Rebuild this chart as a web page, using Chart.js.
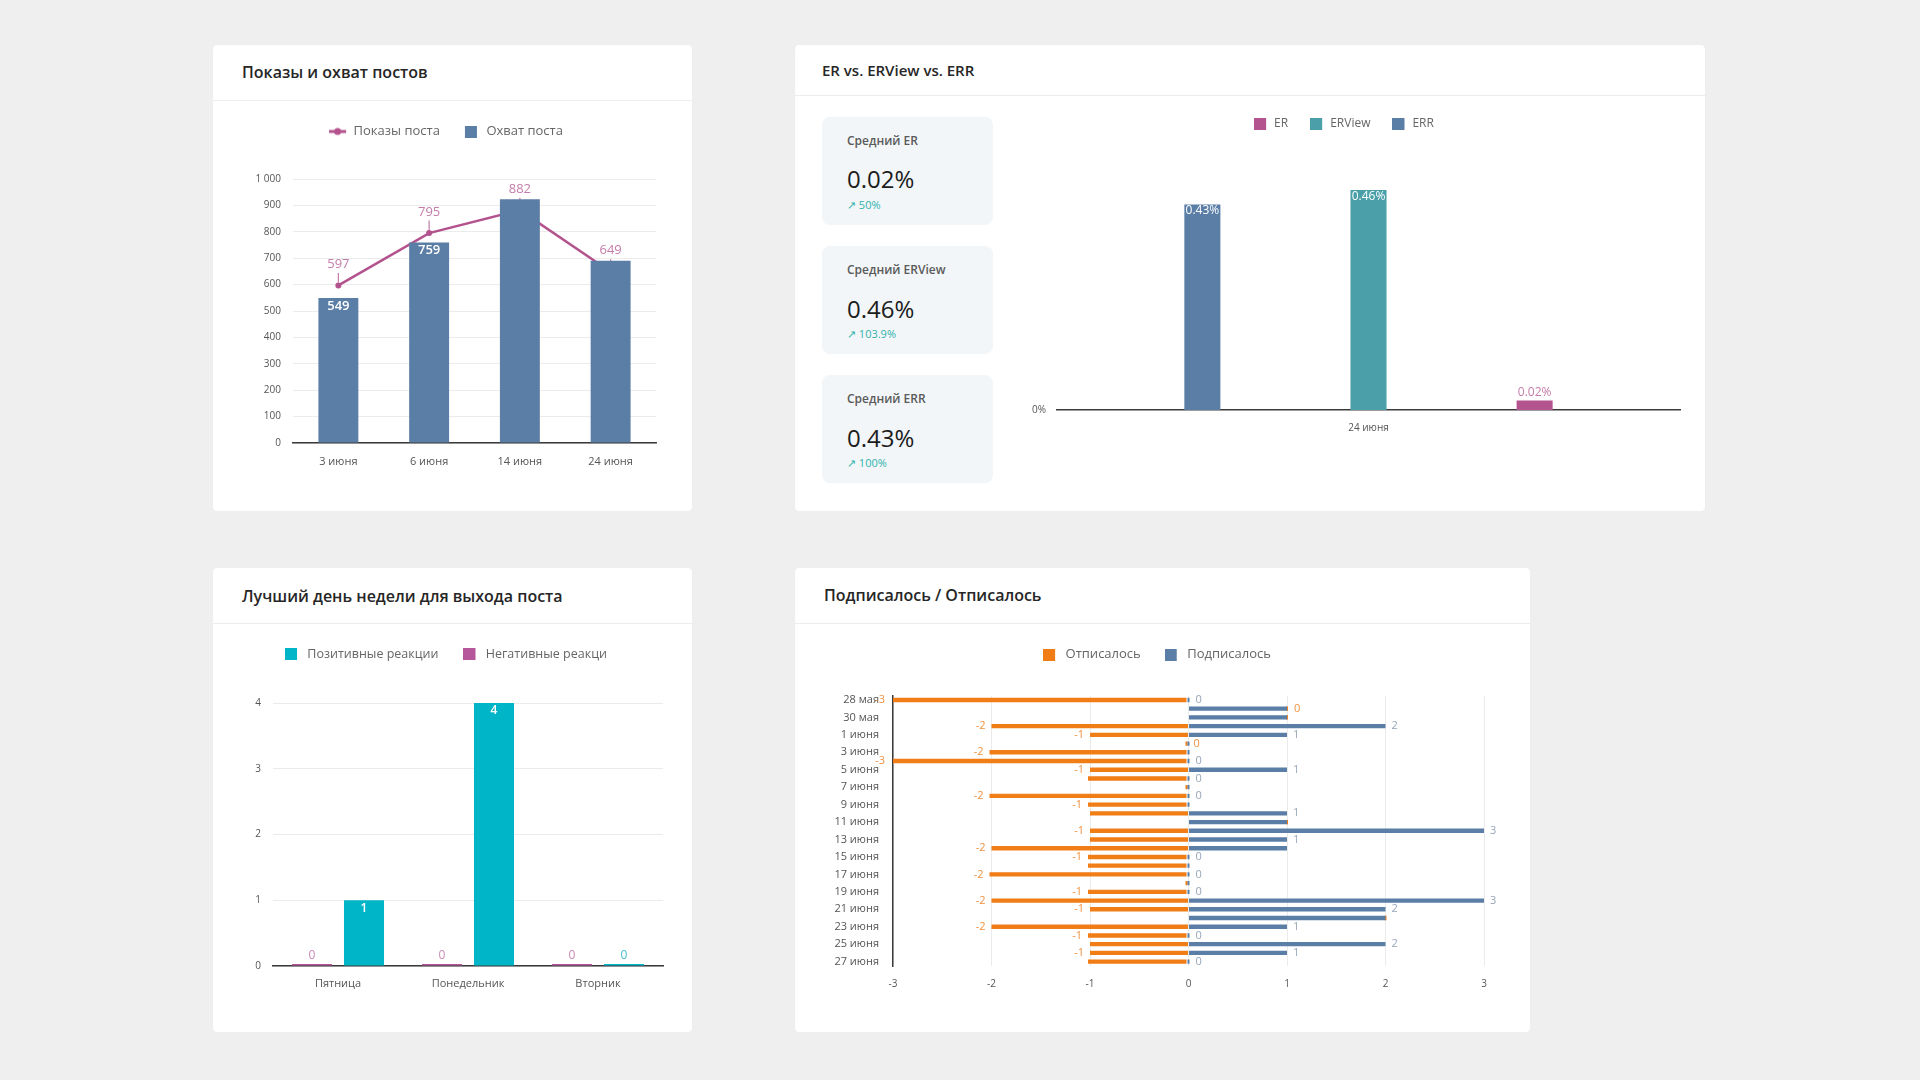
<!DOCTYPE html>
<html lang="ru">
<head>
<meta charset="utf-8">
<script src="https://cdn.jsdelivr.net/npm/chart.js@4.4.1/dist/chart.umd.min.js"></script>
<style>
html,body{margin:0;padding:0;}
body{width:1920px;height:1080px;background:#efefef;position:relative;overflow:hidden;font-family:'Open Sans',sans-serif;}
.card{position:absolute;background:#fff;border-radius:4px;box-shadow:0 0 1px rgba(0,0,0,0.06);}
.sep{position:absolute;height:1px;background:#ededed;}
.stat{position:absolute;background:#f2f6f8;border-radius:8px;}
canvas{position:absolute;}
</style>
</head>
<body>
<script>
// ---------- DATA ----------
const postDates = ['3 июня', '6 июня', '14 июня', '24 июня'];
const postImpressions = [597, 795, 882, 649];
const postReach = [549, 759, 923, 690];

const erDates = ['24 июня'];
const erValues = [0.02];
const erViewValues = [0.46];
const errValues = [0.43];
const erStatLabels = ['Средний ER', 'Средний ERView', 'Средний ERR'];
const erStatValues = ['0.02%', '0.46%', '0.43%'];
const erStatChanges = ['50%', '103.9%', '100%'];

const weekDays = ['Пятница', 'Понедельник', 'Вторник'];
const positiveReactions = [1, 4, 0];
const negativeReactions = [0, 0, 0];

const subDates = ['28 мая', '29 мая', '30 мая', '31 мая', '1 июня', '2 июня', '3 июня', '4 июня',
  '5 июня', '6 июня', '7 июня', '8 июня', '9 июня', '10 июня', '11 июня', '12 июня', '13 июня',
  '14 июня', '15 июня', '16 июня', '17 июня', '18 июня', '19 июня', '20 июня', '21 июня', '22 июня',
  '23 июня', '24 июня', '25 июня', '26 июня', '27 июня'];
const unsubscribed = [-3, 0, 0, -2, -1, 0, -2, -3, -1, -1, 0, -2, -1, -1, 0, -1, -1, -2, -1, -1, -2, 0, -1, -2, -1, 0, -2, -1, -1, -1, -1];
const subscribed = [0, 1, 1, 2, 1, 0, 0, 0, 1, 0, 0, 0, 0, 1, 1, 3, 1, 1, 0, 0, 0, 0, 0, 3, 2, 2, 1, 0, 2, 1, 0];

// ---------- COLOURS ----------
const C = {
  reach: '#5b7ea6', impr: '#b3528d', imprLabel: '#c47ca9',
  err: '#5b7ea6', erview: '#4a9fa9', er: '#b3548f', erLabel: '#c47ca9',
  pos: '#00b5c7', neg: '#b5579a', posLabel: '#43c2ce', negLabel: '#c98ab7',
  unsub: '#f07d16', sub: '#5b7ea6', unsubLabel: '#f0913f', subLabel: '#97a6b8',
  tick: '#555', legend: '#666', grid: '#ebebeb', axis: '#3a3a3a'
};

Chart.defaults.font.family = "'Open Sans', sans-serif";
Chart.defaults.color = C.tick;
Chart.defaults.animation = false;
Chart.defaults.plugins.tooltip.enabled = false;

// ---------- PAGE HELPERS ----------
function box(cls, l, t, w, h) {
  const d = document.createElement('div');
  d.className = cls;
  d.style.left = l + 'px'; d.style.top = t + 'px'; d.style.width = w + 'px'; d.style.height = h + 'px';
  document.body.appendChild(d);
  return d;
}
function text(x, yc, str, size, weight, color) {
  const d = document.createElement('div');
  d.textContent = str;
  d.style.cssText = `position:absolute;left:${x}px;top:${yc - size * 0.55}px;font-size:${size}px;line-height:${size}px;font-weight:${weight};color:${color};white-space:nowrap;`;
  document.body.appendChild(d);
}
function frame(o) {
  const top = Math.round(o.legendY - o.P - o.fs / 2);
  const extra = o.plotT - (top + o.fs + o.P + 10);
  const left = o.plotL - o.yW;
  const right = Math.ceil(o.plotR + o.padR);
  const need = o.plotB + 2 * o.xPad + o.xFs * 1.2;
  const bottom = Math.ceil(need) + 2;
  const cv = document.createElement('canvas');
  cv.width = right - left; cv.height = bottom - top;
  cv.style.left = left + 'px'; cv.style.top = top + 'px';
  document.body.appendChild(cv);
  return { cv, extra, padRight: right - o.plotR, padBottom: bottom - need };
}
// extra space below the legend, and a small horizontal nudge of the legend row
function legendGap(extra, dx) {
  return { id: 'legendGap', afterInit(chart) {
    const lg = chart.legend; const f = lg.fit; const d = lg.draw;
    lg.fit = function () { f.call(this); this.height += extra; };
    lg.draw = function () { const c = this.ctx; c.save(); c.translate(dx, 0); d.call(this); c.restore(); };
  } };
}
function rectIcon(color, w, off) {
  const c = document.createElement('canvas'); c.width = w; c.height = 12;
  const x = c.getContext('2d'); x.fillStyle = color; x.fillRect(off, 0, 12, 12); return c;
}
function lineIcon(color, w) {
  const c = document.createElement('canvas'); c.width = w; c.height = 12;
  const x = c.getContext('2d'); x.strokeStyle = color; x.lineWidth = 3;
  x.beginPath(); x.moveTo(0, 6); x.lineTo(17, 6); x.stroke();
  x.fillStyle = color; x.beginPath(); x.arc(8.5, 6, 3.5, 0, Math.PI * 2); x.fill(); return c;
}
function legendOpts(items, fs, P, w) {
  return {
    display: true, position: 'top',
    labels: {
      usePointStyle: true, pointStyleWidth: w, padding: P, color: C.legend,
      font: { size: fs },
      generateLabels: () => items.map(it => ({ text: it.text, pointStyle: it.icon, fillStyle: 'rgba(0,0,0,0)',
        strokeStyle: 'rgba(0,0,0,0)', lineWidth: 0, hidden: false, datasetIndex: it.ds, fontColor: C.legend }))
    }
  };
}

// ---------- CARDS ----------
box('card', 213, 45, 479, 466);
box('sep', 213, 100, 479, 1);
text(242, 73, 'Показы и охват постов', 16, 600, '#262626');

box('card', 795, 45, 910, 466);
box('sep', 795, 95, 910, 1);
text(822, 71, 'ER vs. ERView vs. ERR', 15, 600, '#262626');

box('card', 213, 568, 479, 464);
box('sep', 213, 623, 479, 1);
text(242, 597, 'Лучший день недели для выхода поста', 16, 600, '#262626');

box('card', 795, 568, 735, 464);
box('sep', 795, 623, 735, 1);
text(824, 596, 'Подписалось / Отписалось', 16, 600, '#262626');

const statTops = [116.5, 246, 375];
statTops.forEach((t, i) => {
  box('stat', 822, t, 171, 108);
  text(847, t + 25, erStatLabels[i], 12, 600, '#5a5a5a');
  text(847, t + 64, erStatValues[i], 24, 400, '#1c1c1c');
  text(847, t + 88.5, '\u2197 ' + erStatChanges[i], 11, 400, '#2fb3ad');
});

// ---------- CHART 1: Показы и охват ----------
(function () {
  const o = { legendY: 131, fs: 13, P: 22, plotL: 293, plotR: 656, plotT: 179, plotB: 443, yW: 63, padR: 8, xPad: 12, xFs: 11 };
  const f = frame(o);
  const labelsPlugin = {
    id: 'postLabels',
    afterDatasetDraw(chart, args) {
      if (args.index !== 0) return;
      const ctx = chart.ctx;
      ctx.save(); ctx.strokeStyle = C.imprLabel; ctx.lineWidth = 1.2;
      chart.getDatasetMeta(0).data.forEach(p => { ctx.beginPath(); ctx.moveTo(p.x, p.y - 12.5); ctx.lineTo(p.x, p.y - 3); ctx.stroke(); });
      ctx.restore();
    },
    afterDatasetsDraw(chart) {
      const ctx = chart.ctx;
      ctx.save(); ctx.textAlign = 'center'; ctx.textBaseline = 'middle';
      ctx.font = "13px 'Open Sans'"; ctx.fillStyle = C.imprLabel;
      chart.getDatasetMeta(0).data.forEach((p, i) => ctx.fillText(String(postImpressions[i]), p.x, p.y - 21));
      ctx.font = "600 13px 'Open Sans'"; ctx.fillStyle = '#fff';
      chart.getDatasetMeta(1).data.forEach((b, i) => {
        if (postReach[i] < postImpressions[i]) ctx.fillText(String(postReach[i]), b.x, b.y + 8);
      });
      ctx.restore();
    }
  };
  new Chart(f.cv, {
    type: 'bar',
    data: {
      labels: postDates,
      datasets: [
        { type: 'line', label: 'Показы поста', data: postImpressions, order: 2, borderColor: C.impr, backgroundColor: C.impr,
          borderWidth: 2.5, pointRadius: 3, pointBackgroundColor: C.impr, pointBorderWidth: 0, tension: 0 },
        { type: 'bar', label: 'Охват поста', data: postReach, order: 1, backgroundColor: C.reach,
          categoryPercentage: 0.8, barPercentage: 0.55 }
      ]
    },
    options: {
      responsive: false,
      layout: { padding: { top: 0, left: 0, right: f.padRight, bottom: f.padBottom } },
      plugins: { legend: legendOpts([
        { text: 'Показы поста', icon: lineIcon(C.impr, 18), ds: 0 },
        { text: 'Охват поста', icon: rectIcon(C.reach, 18, 3), ds: 1 }], 13, 22, 18) },
      scales: {
        x: { grid: { display: false, drawTicks: false }, border: { display: true, color: C.axis, width: 1.5 },
          ticks: { font: { size: 11 }, padding: 12 } },
        y: { min: 0, max: 1000, ticks: { stepSize: 100, font: { size: 10 }, padding: 12,
            callback: v => v >= 1000 ? String(v).replace(/(\d)(\d{3})$/, '$1 $2') : String(v) },
          grid: { color: C.grid, drawTicks: false }, border: { display: false },
          afterFit: s => { s.width = o.yW; } }
      }
    },
    plugins: [legendGap(f.extra, 3), labelsPlugin]
  });
})();

// ---------- CHART 2: ER vs ERView vs ERR ----------
(function () {
  const o = { legendY: 124.3, fs: 12, P: 22, plotL: 1057, plotR: 1680, plotT: 171, plotB: 410, yW: 57, padR: 14, xPad: 12, xFs: 10 };
  const f = frame(o);
  const lbl = {
    id: 'erLabels',
    afterDatasetsDraw(chart) {
      const ctx = chart.ctx; ctx.save(); ctx.textAlign = 'center'; ctx.textBaseline = 'middle';
      ctx.font = "12px 'Open Sans'";
      chart.data.datasets.forEach((ds, di) => {
        chart.getDatasetMeta(di).data.forEach((b, i) => {
          const t = ds.data[i] + '%';
          if (b.base - b.y > 18) { ctx.fillStyle = '#fff'; ctx.fillText(t, b.x, b.y + 6.5); }
          else { ctx.fillStyle = ds.labelColor; ctx.fillText(t, b.x, b.y - 7.5); }
        });
      });
      ctx.restore();
    }
  };
  new Chart(f.cv, {
    type: 'bar',
    data: {
      labels: erDates,
      datasets: [
        { label: 'ERR', data: errValues, backgroundColor: C.err, labelColor: '#fff' },
        { label: 'ERView', data: erViewValues, backgroundColor: C.erview, labelColor: '#fff' },
        { label: 'ER', data: erValues, backgroundColor: C.er, labelColor: C.erLabel }
      ]
    },
    options: {
      responsive: false,
      datasets: { bar: { categoryPercentage: 0.8, barPercentage: 0.217 } },
      layout: { padding: { top: 0, left: 0, right: f.padRight, bottom: f.padBottom } },
      plugins: { legend: legendOpts([
        { text: 'ER', icon: rectIcon(C.er, 14, 0), ds: 2 },
        { text: 'ERView', icon: rectIcon(C.erview, 14, 0), ds: 1 },
        { text: 'ERR', icon: rectIcon(C.err, 14, 0), ds: 0 }], 12, 22, 14) },
      scales: {
        x: { grid: { display: false, drawTicks: false }, border: { display: true, color: C.axis, width: 1.5 },
          ticks: { font: { size: 10 }, padding: 12 } },
        y: { min: 0, max: 0.5, grid: { display: false, drawTicks: false }, border: { display: false },
          ticks: { font: { size: 10 }, padding: 11, callback: v => v === 0 ? '0%' : '' },
          afterFit: s => { s.width = o.yW; } }
      }
    },
    plugins: [legendGap(f.extra, 4), lbl]
  });
})();

// ---------- CHART 3: Лучший день недели ----------
(function () {
  const o = { legendY: 654, fs: 12.5, P: 25, plotL: 273, plotR: 663, plotT: 703, plotB: 966, yW: 50, padR: 10, xPad: 11, xFs: 11 };
  const f = frame(o);
  const lbl = {
    id: 'dayLabels',
    afterDatasetsDraw(chart) {
      const ctx = chart.ctx; ctx.save(); ctx.textAlign = 'center'; ctx.textBaseline = 'middle';
      chart.data.datasets.forEach((ds, di) => {
        chart.getDatasetMeta(di).data.forEach((b, i) => {
          const t = String(ds.data[i]);
          if (b.base - b.y > 18) { ctx.font = "600 12px 'Open Sans'"; ctx.fillStyle = '#fff'; ctx.fillText(t, b.x, b.y + 8); }
          else { ctx.font = "12px 'Open Sans'"; ctx.fillStyle = ds.labelColor; ctx.fillText(t, b.x, b.base - 10); }
        });
      });
      ctx.restore();
    }
  };
  new Chart(f.cv, {
    type: 'bar',
    data: {
      labels: weekDays,
      datasets: [
        { label: 'Негативные реакци', data: negativeReactions, backgroundColor: C.neg, labelColor: C.negLabel },
        { label: 'Позитивные реакции', data: positiveReactions, backgroundColor: C.pos, labelColor: C.posLabel }
      ]
    },
    options: {
      responsive: false,
      datasets: { bar: { categoryPercentage: 0.8, barPercentage: 0.77, minBarLength: 2 } },
      layout: { padding: { top: 0, left: 0, right: f.padRight, bottom: f.padBottom } },
      plugins: { legend: legendOpts([
        { text: 'Позитивные реакции', icon: rectIcon(C.pos, 16, 0), ds: 1 },
        { text: 'Негативные реакци', icon: rectIcon(C.neg, 16, 0), ds: 0 }], 12.5, 25, 16) },
      scales: {
        x: { grid: { display: false, drawTicks: false }, border: { display: true, color: C.axis, width: 1.5 },
          ticks: { font: { size: 11 }, padding: 11 } },
        y: { min: 0, max: 4, ticks: { stepSize: 1, font: { size: 10 }, padding: 12 },
          grid: { color: C.grid, drawTicks: false }, border: { display: false },
          afterFit: s => { s.width = o.yW; } }
      }
    },
    plugins: [legendGap(f.extra, 3), lbl]
  });
})();

// ---------- CHART 4: Подписалось / Отписалось ----------
(function () {
  const o = { legendY: 654, fs: 13, P: 24, plotL: 893, plotR: 1484, plotT: 695.6, plotB: 966, yW: 77, padR: 22, xPad: 12, xFs: 10 };
  const f = frame(o);
  const lbl = {
    id: 'subLabels',
    afterDatasetsDraw(chart) {
      const ctx = chart.ctx; ctx.save(); ctx.textBaseline = 'middle'; ctx.font = "11px 'Open Sans'";
      const placed = [];
      const subMeta = chart.getDatasetMeta(0), unsubMeta = chart.getDatasetMeta(1);
      for (let i = 0; i < subDates.length; i++) {
        [[unsubMeta, unsubscribed, C.unsubLabel], [subMeta, subscribed, C.subLabel]].forEach(([meta, vals, color]) => {
          const el = meta.data[i]; const v = vals[i]; const t = String(v);
          const w = ctx.measureText(t).width, h = 11;
          let x, l;
          if (v < 0) { x = Math.min(el.x, el.base) - 6; l = x - w; }
          else { x = Math.max(el.x, el.base) + 6; l = x; }
          const bx = { l, r: l + w, t: el.y - h / 2, b: el.y + h / 2 };
          if (placed.some(p => bx.l < p.r && bx.r > p.l && bx.t < p.b && bx.b > p.t)) return;
          placed.push(bx);
          ctx.fillStyle = color; ctx.textAlign = v < 0 ? 'right' : 'left';
          ctx.fillText(t, x, el.y);
        });
      }
      ctx.restore();
    }
  };
  new Chart(f.cv, {
    type: 'bar',
    data: {
      labels: subDates,
      datasets: [
        { label: 'Подписалось', data: subscribed, backgroundColor: C.sub, stack: 's' },
        { label: 'Отписалось', data: unsubscribed, backgroundColor: C.unsub, stack: 's' }
      ]
    },
    options: {
      responsive: false,
      indexAxis: 'y',
      datasets: { bar: { categoryPercentage: 1, barPercentage: 0.5, minBarLength: 2 } },
      layout: { padding: { top: 0, left: 0, right: f.padRight, bottom: f.padBottom } },
      plugins: { legend: legendOpts([
        { text: 'Отписалось', icon: rectIcon(C.unsub, 16, 0), ds: 1 },
        { text: 'Подписалось', icon: rectIcon(C.sub, 16, 0), ds: 0 }], 13, 24, 16) },
      scales: {
        x: { stacked: true, min: -3, max: 3, ticks: { stepSize: 1, font: { size: 10 }, padding: 12 },
          grid: { color: C.grid, drawTicks: false }, border: { display: false } },
        y: { stacked: true, grid: { display: false, drawTicks: false }, border: { display: true, color: C.axis, width: 1.5 },
          ticks: { autoSkip: false, font: { size: 11 }, padding: 14, callback: (v, i) => i % 2 === 0 ? subDates[i] : '' },
          afterFit: s => { s.width = o.yW; } }
      }
    },
    plugins: [legendGap(f.extra, 7), lbl]
  });
})();
</script>
</body>
</html>
